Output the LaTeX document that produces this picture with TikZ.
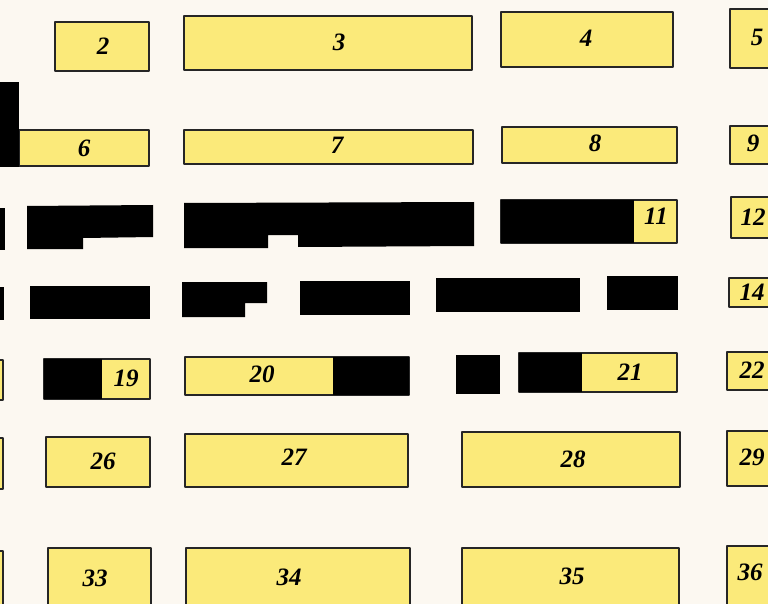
\documentclass[tikz,border=0pt]{standalone}
\usepackage{fontspec}
\usepackage{tikz}
\usetikzlibrary{positioning}
\newfontfamily\lotfont{Liberation Serif}
\definecolor{paper}{RGB}{252,248,241}
\definecolor{lotyellow}{RGB}{251,234,122}
\tikzset{
  lot/.style={draw=black!85,line width=1.2pt,fill=lotyellow},
  blk/.style={fill=black},
  lotnum/.style={font=\lotfont\fontsize{25}{25}\selectfont\bfseries\itshape,inner sep=0pt}
}

\begin{document}
\begin{tikzpicture}[x=1pt,y=-1pt,line cap=round,line join=round]
    \fill[paper] (0,0) rectangle (768,604);
    \useasboundingbox (0,0) rectangle (768,604);
    \clip (0,0) rectangle (768,604);
    % plain lots with a number
    \foreach \n/\xa/\ya/\xb/\yb/\lx/\ly in {2/55/22/149/71/103/46,3/184/16/472/70/339/42,
        4/501/12/673/67/586/38,5/730/9/790/68/757/37,6/19/130/149/166/84/148,
        7/184/130/473/164/337/145,8/502/127/677/163/595/143,9/730/126/790/164/753/143,
        12/731/197/790/238/753/217,14/729/278/790/307/752/292,22/727/352/790/390/752/370,
        26/46/437/150/487/103/461,27/185/434/408/487/294/457,28/462/432/680/487/573/459,
        29/727/431/790/486/752/457,33/48/548/151/620/95/578,34/186/548/410/620/289/577,
        35/462/548/679/620/572/576,36/727/546/790/620/750/572} {
        \draw[lot] (\xa,\ya) rectangle (\xb,\yb);
        \node[lotnum] (lot\n) at (\lx,\ly) {\n};
    }
    % lots partly built over
    \foreach \n/\xa/\ya/\xb/\yb/\bx/\lx/\ly in {11/501/200/677/243/634/656/216,
        19/44/359/150/399/102/126/378,21/519/353/677/392/582/630/372} {
        \draw[lot] (\xa,\ya) rectangle (\xb,\yb);
        \fill[blk] (\xa,\ya) rectangle (\bx,\yb);
        \node[lotnum] (lot\n) at (\lx,\ly) {\n};
    }
    \draw[lot] (185,357) rectangle (409,395);
    \fill[blk] (333,357) rectangle (409,395);
    \node[lotnum] (lot20) at (262,374) {20};
    % slivers at the left edge
    \foreach \ya/\yb in {360/400,438/489,551/620} {
        \draw[lot] (-10,\ya) rectangle (3,\yb);
    }
    % black blocks
    \fill[blk] (-10,82) rectangle (19,167);
    \fill[blk] (-10,208) rectangle (5,250);
    \fill[blk] (27,206) -- (153,205) -- (153,237) -- (83,238) -- (83,249) -- (27,249) -- cycle;
    \fill[blk] (184,203) -- (474,202) -- (474,246) -- (298,247) -- (298,235) -- (268,235)
        -- (268,248) -- (184,248) -- cycle;
    \fill[blk] (-10,287) rectangle (4,320);
    \fill[blk] (30,286) rectangle (150,319);
    \fill[blk] (182,282) -- (267,282) -- (267,303) -- (245,303) -- (245,317) -- (182,317) -- cycle;
    \fill[blk] (300,281) rectangle (410,315);
    \fill[blk] (436,278) rectangle (580,312);
    \fill[blk] (607,276) rectangle (678,310);
    \fill[blk] (456,355) rectangle (500,394);
\end{tikzpicture}
\end{document}
